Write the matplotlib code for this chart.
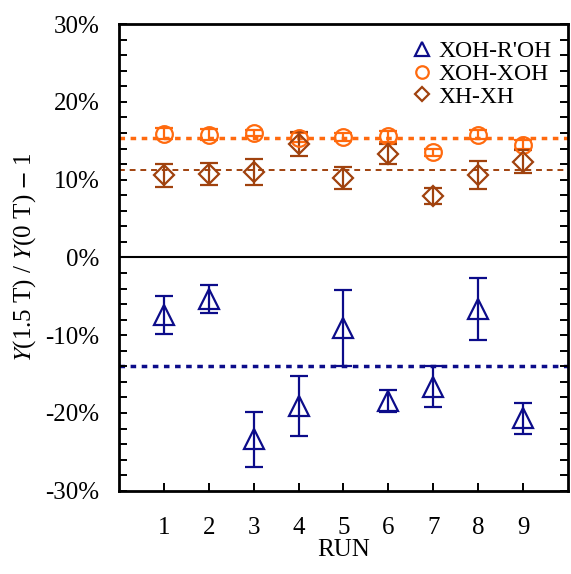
import matplotlib
matplotlib.use("Agg")
import matplotlib.pyplot as plt
import numpy as np
from matplotlib.ticker import MultipleLocator, FuncFormatter

plt.rcParams["font.family"] = ["Liberation Serif", "DejaVu Serif"]
plt.rcParams["mathtext.fontset"] = "stix"

runs = [1, 2, 3, 4, 5, 6, 7, 8, 9]

# XOH-R'OH (blue triangles)
roh_val = [-7.4, -5.4, -23.4, -19.1, -9.1, -18.5, -16.6, -6.6, -20.7]
roh_err = [2.5, 1.8, 3.5, 3.9, 4.9, 1.4, 2.6, 4.0, 2.0]
roh_mean = -13.9

# XOH-XOH (orange circles)
xoh_val = [15.9, 15.8, 16.0, 15.4, 15.5, 15.6, 13.5, 15.8, 14.5]
xoh_err = [0.7, 0.7, 0.4, 0.6, 0.5, 0.7, 0.4, 0.6, 0.6]
xoh_mean = 15.3

# XH-XH (brown diamonds)
xh_val = [10.55, 10.7, 11.0, 14.6, 10.2, 13.3, 7.9, 10.55, 12.3]
xh_err = [1.45, 1.45, 1.7, 1.5, 1.4, 1.3, 1.0, 1.8, 1.5]
xh_mean = 11.3

BLUE = "#0c0c8a"
ORANGE = "#ff6a0e"
BROWN = "#a0420e"

fig = plt.figure(figsize=(5.71, 5.74), dpi=100)
ax = fig.add_axes([0.208, 0.145, 0.787, 0.813])

ax.axhline(0, color="black", lw=1.5, zorder=1)
ax.axhline(roh_mean, color=BLUE, lw=2.5, ls=(0, (1.6, 1.6)), zorder=1)
ax.axhline(xoh_mean, color=ORANGE, lw=2.5, ls=(0, (1.6, 1.6)), zorder=1)
ax.axhline(xh_mean, color=BROWN, lw=1.4, ls=(0, (3, 2.5)), zorder=1)

common = dict(ls="none", mfc="none", elinewidth=1.6, capsize=6.5, capthick=1.6, mew=1.6)
ax.errorbar(runs, roh_val, yerr=roh_err, marker="^", ms=14, color=BLUE,
            label="XOH-R'OH", **common)
ax.errorbar(runs, xoh_val, yerr=xoh_err, marker="o", ms=12, color=ORANGE,
            label="XOH-XOH", **common)
ax.errorbar(runs, xh_val, yerr=xh_err, marker="D", ms=10, color=BROWN,
            label="XH-XH", **common)

ax.set_xlim(0, 10)
ax.set_ylim(-30, 30)
ax.set_xticks(runs)
ax.yaxis.set_major_locator(MultipleLocator(10))
ax.yaxis.set_minor_locator(MultipleLocator(2))
ax.yaxis.set_major_formatter(FuncFormatter(lambda v, p: "%d%%" % round(v)))

ax.tick_params(axis="both", which="both", direction="in", length=5.5, width=1.4)
ax.tick_params(axis="y", which="both", left=True, right=True, pad=14, labelsize=18)
ax.tick_params(axis="x", which="both", top=False, pad=19, labelsize=18)
for s in ax.spines.values():
    s.set_linewidth(2.0)

ax.set_xlabel("RUN", fontsize=18, labelpad=0)
ax.set_ylabel(r"$Y$(1.5 T) / $Y$(0 T) $-$ 1", fontsize=18, labelpad=5)

handles, labels = ax.get_legend_handles_labels()
handles = [h[0] for h in handles]
leg = ax.legend(handles, labels, loc="upper right", frameon=False, fontsize=17,
                handlelength=0.7, handletextpad=0.35, labelspacing=0.05,
                markerscale=0.75, borderaxespad=0.3)

fig.savefig("out.png", dpi=100)
